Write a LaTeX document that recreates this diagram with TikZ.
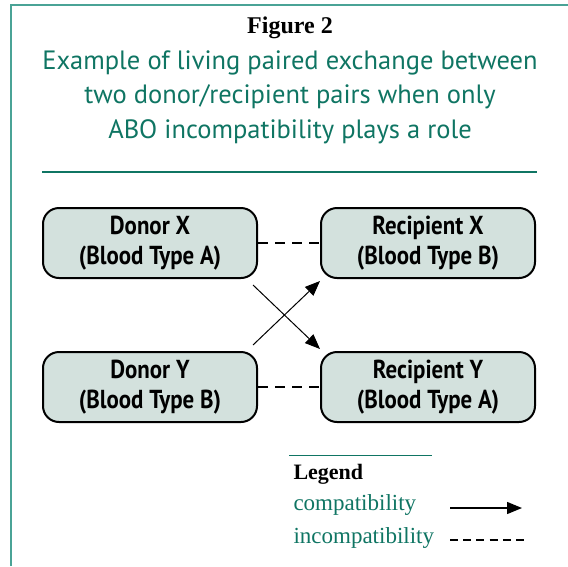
\documentclass[tikz,border=0pt]{standalone}
\usepackage{fontspec}
\setmainfont{Liberation Serif}
\setsansfont{PT Sans}
\newfontfamily\boxfont{PT Sans}[FakeStretch=0.88]
\usepackage{xcolor}
\usetikzlibrary{arrows.meta,positioning}
\definecolor{framegreen}{HTML}{4AA396}
\definecolor{textgreen}{HTML}{0F7563}
\definecolor{boxfill}{HTML}{D3E1DD}

\tikzset{
  pairbox/.style={draw, line width=2pt, rounded corners=16pt, fill=boxfill,
    minimum width=214pt, minimum height=70pt, align=center,
    font=\boxfont\bfseries\fontsize{26}{30}\selectfont},
  comp/.style={line width=1pt, -{Triangle[length=15pt,width=12pt]}},
  incomp/.style={line width=2pt, dash pattern=on 10pt off 7pt},
  legtext/.style={anchor=west, text=textgreen, font=\fontsize{23}{26}\selectfont}
}

\begin{document}
\begin{tikzpicture}[x=1pt,y=-1pt]
  \useasboundingbox (0,0) rectangle (568,566);
  \draw[framegreen, line width=2pt] (11,566) -- (11,5) -- (568,5);

  \node[font=\bfseries\fontsize{24}{28}\selectfont] (fig) at (290,28) {Figure 2};
  \node[text=textgreen, align=center, font=\sffamily\fontsize{26.5}{34.5}\selectfont] (cap) at (290,97)
    {Example of living paired exchange between\\two donor/recipient pairs when only\\ABO incompatibility plays a role};
  \draw[textgreen, line width=2.5pt] (42,172) -- (537,172);

  \node[pairbox] (dx) at (150,243) {Donor X\\(Blood Type A)};
  \node[pairbox, right=62pt of dx] (rx) {Recipient X\\(Blood Type B)};
  \node[pairbox, below=72pt of dx] (dy) {Donor Y\\(Blood Type B)};
  \node[pairbox, right=62pt of dy] (ry) {Recipient Y\\(Blood Type A)};

  \draw[incomp] (dx) -- (rx);
  \draw[incomp] (dy) -- (ry);
  \draw[comp] ([shift={(-5,6)}]dx.south east) -- ([shift={(0,-2)}]ry.north west);
  \draw[comp] ([shift={(-5,-6)}]dy.north east) -- ([shift={(0,2)}]rx.south west);

  % legend
  \draw[textgreen, line width=1pt] (289,455) -- (432,455);
  \node[anchor=west, font=\bfseries\fontsize{22}{24}\selectfont] (leg) at (290,474) {Legend};
  \node[legtext] (lcomp) at (290,505) {compatibility};
  \node[legtext] (lincomp) at (290,538) {incompatibility};
  \coordinate (ca) at (450,508);
  \coordinate (cb) at (522,508);
  \coordinate (ia) at (450,540);
  \coordinate (ib) at (524,540);
  \draw[comp, line width=1.4pt] (ca) -- (cb);
  \draw[incomp, line width=2.4pt, dash pattern=on 8pt off 5.2pt] (ia) -- (ib);
\end{tikzpicture}
\end{document}
